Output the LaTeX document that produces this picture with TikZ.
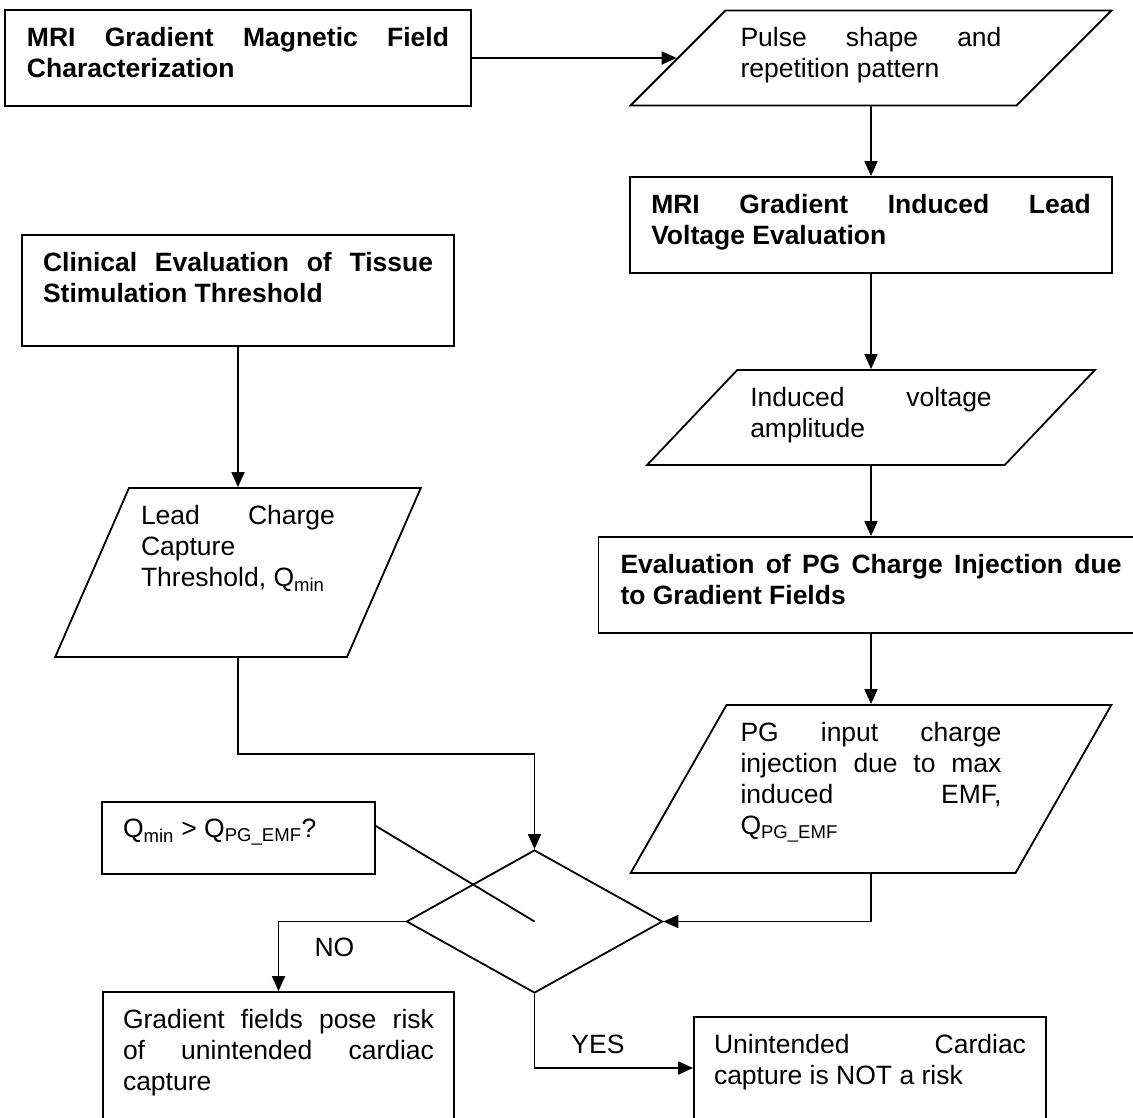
\documentclass[tikz,border=0pt]{standalone}
\usepackage{fontspec}
\setmainfont{Liberation Sans}
\usepackage{tikz}
\usetikzlibrary{shapes.geometric,arrows.meta}

\tolerance=10000
\hyphenpenalty=10000
\hbadness=10000

% fixed-size text block, text set from the top
\newcommand{\blocktext}[3]{\parbox[t][#2][t]{#1}{#3}}

\begin{document}
\begin{tikzpicture}[x=1pt, y=-1pt, line width=1.8pt, >={Triangle[length=15pt,width=13pt]},
  font=\fontsize{26.5}{31}\selectfont,
  proc/.style = {draw, rectangle, inner ysep=17pt},
  io/.style = {draw, trapezium, inner ysep=17pt},
  decision/.style = {draw, diamond, inner sep=0pt, minimum width=256pt, minimum height=143pt},
  tag/.style = {inner sep=0pt}]
\useasboundingbox (0,0) rectangle (1133,1117);
% right column
\node[proc, inner xsep=22pt] (0) at (238,58) {\blocktext{422pt}{62pt}{\bfseries MRI Gradient Magnetic Field\linebreak Characterization}};
\node[io, trapezium left angle=45, trapezium right angle=135, inner xsep=15pt] (1) at (871,58) {\blocktext{261pt}{61pt}{Pulse shape and\linebreak repetition pattern}};
\node[proc, inner xsep=21pt] (2) at (871,225) {\blocktext{439.5pt}{62pt}{\bfseries MRI Gradient Induced Lead\linebreak Voltage Evaluation}};
\node[io, trapezium left angle=46.5, trapezium right angle=133.5, inner xsep=13pt] (3) at (871,417.5) {\blocktext{241.5pt}{61pt}{Induced voltage\linebreak amplitude}};
\node[proc, inner xsep=22pt] (4) at (871,585) {\blocktext{501pt}{62pt}{\bfseries Evaluation of PG Charge Injection due\linebreak to Gradient Fields}};
\node[io, trapezium left angle=60.3, trapezium right angle=119.7, inner xsep=14pt] (5) at (871,789) {\blocktext{261pt}{134pt}{PG input charge\linebreak injection due to max\linebreak induced EMF,\linebreak Q\textsubscript{PG\_EMF}}};
% left column
\node[proc, inner xsep=21pt] (6) at (238,290.5) {\blocktext{390pt}{77pt}{\bfseries Clinical Evaluation of Tissue\linebreak Stimulation Threshold}};
\node[io, trapezium left angle=66.4, trapezium right angle=113.6, inner xsep=12pt] (7) at (238,572.5) {\blocktext{194pt}{135pt}{Lead Charge\linebreak Capture\linebreak Threshold,~Q\textsubscript{min}}};
% decision and outcomes
\node[decision] (8) at (534.5,921.5) {};
\node[proc, inner xsep=21pt] (9) at (238.5,838) {\blocktext{231pt}{38pt}{Q\textsubscript{min} > Q\textsubscript{PG\_EMF}?}};
\node[proc, inner xsep=20pt] (10) at (278.5,1056) {\blocktext{311pt}{94pt}{Gradient fields pose risk\linebreak of unintended cardiac\linebreak capture}};
\node[proc, inner xsep=20pt] (11) at (870,1068) {\blocktext{312pt}{68pt}{Unintended Cardiac\linebreak capture is NOT a risk}};
\coordinate (12) at (400,754);

\draw[->] (0) -- (1);
\draw[->] (1) -- (2);
\draw[->] (2) -- (3);
\draw[->] (3) -- (4);
\draw[->] (4) -- (5);
\draw[->] (6) -- (7);
\draw[->] (7.south) |- (12) -| (8.north);
\draw[->] (5.south) |- (8.east);
\draw ([yshift=12pt]9.east) -- (8.center);
\draw[->] (8.west) -| node[tag, pos=.28, below=16pt] (no) {NO} (10.north);
\draw[->] (8.south) |- node[tag, pos=.7, above=13pt] (yes) {YES} (11.west);
\end{tikzpicture}
\end{document}
